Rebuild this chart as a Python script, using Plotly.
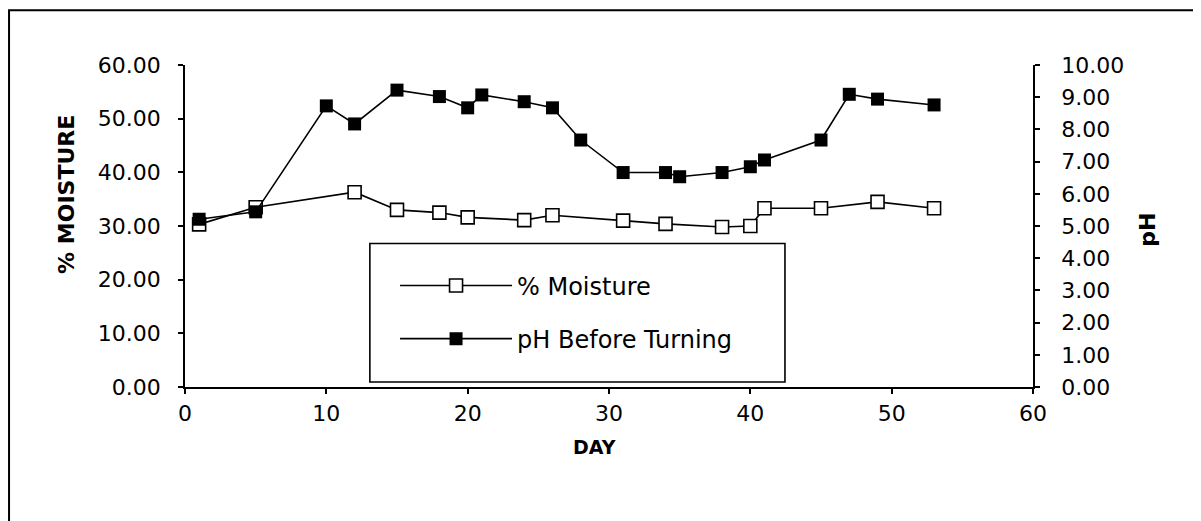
import plotly.graph_objects as go

# Data
moist_day = [1, 5, 12, 15, 18, 20, 24, 26, 31, 34, 38, 40, 41, 45, 49, 53]
moisture = [30.3, 33.5, 36.3, 33.0, 32.5, 31.6, 31.1, 32.0, 31.0, 30.4,
            29.8, 30.0, 33.3, 33.3, 34.5, 33.3]

ph_day = [1, 5, 10, 12, 15, 18, 20, 21, 24, 26, 28, 31, 34, 35, 38, 40,
          41, 45, 47, 49, 53]
ph = [5.21, 5.44, 8.73, 8.17, 9.22, 9.02, 8.67, 9.07, 8.86, 8.67, 7.67,
      6.66, 6.66, 6.53, 6.66, 6.84, 7.05, 7.67, 9.09, 8.94, 8.76]

FONT = "DejaVu Sans"

fig = go.Figure()

# % Moisture (left axis)
fig.add_trace(
    go.Scatter(x=moist_day, y=moisture, mode="lines+markers",
               name="% Moisture", legendgroup="a",
               line=dict(color="black", width=1.6),
               marker=dict(symbol="square", size=13, color="white",
                           line=dict(color="black", width=1.6))))
# pH (right axis)
fig.add_trace(
    go.Scatter(x=ph_day, y=ph, mode="lines+markers", yaxis="y2",
               name="pH Before Turning", legendgroup="b",
               line=dict(color="black", width=1.6),
               marker=dict(symbol="square", size=13, color="black")))

axis_common = dict(showgrid=False, zeroline=False, showline=True,
                   linecolor="black", linewidth=1.5, ticks="outside",
                   ticklen=5, tickwidth=1.5, tickcolor="black",
                   tickfont=dict(family=FONT, size=22, color="black"))

fig.update_layout(
    width=1201, height=521,
    margin=dict(l=177, r=176, t=57, b=142),
    paper_bgcolor="white", plot_bgcolor="white",
    font=dict(family=FONT, color="black"),
    showlegend=True,
    legend=dict(x=0.2477, y=0.384, xanchor="left", yanchor="top",
                bgcolor="rgba(0,0,0,0)", borderwidth=0,
                font=dict(family=FONT, size=24, color="black"),
                itemwidth=112, traceorder="grouped", tracegroupgap=19),
    xaxis=dict(range=[0, 60], dtick=10, ticklabelstandoff=1, **axis_common),
    yaxis=dict(range=[0, 60], dtick=10, tickformat=".2f",
               ticklabelstandoff=13, **axis_common),
    yaxis2=dict(range=[0, 10], dtick=1, tickformat=".2f", overlaying="y",
                side="right", ticklabelstandoff=17, **axis_common),
    # inside halves of the crossing tick marks
    xaxis2=dict(range=[0, 60], dtick=10, overlaying="x", anchor="y",
                side="bottom", showgrid=False, zeroline=False,
                showticklabels=False, ticks="inside", ticklen=5,
                tickwidth=1.5, tickcolor="black"),
    yaxis3=dict(range=[0, 60], dtick=10, overlaying="y", anchor="x",
                side="left", showgrid=False, zeroline=False,
                showticklabels=False, ticks="inside", ticklen=5,
                tickwidth=1.5, tickcolor="black"),
    yaxis4=dict(range=[0, 10], dtick=1, overlaying="y", anchor="x",
                side="right", showgrid=False, zeroline=False,
                showticklabels=False, ticks="inside", ticklen=5,
                tickwidth=1.5, tickcolor="black"),
)

# legend frame and outer chart frame
fig.add_shape(type="rect", xref="paper", yref="paper",
              x0=0.218, x1=0.7075, y0=0.0155, y1=0.4458,
              line=dict(color="black", width=1.6), layer="below")
fig.add_shape(type="rect", xref="paper", yref="paper",
              x0=-0.2075, x1=1.205, y0=-0.45, y1=1.17,
              line=dict(color="black", width=2))

# axis titles
fig.add_annotation(text="<b>% MOISTURE</b>", xref="paper", yref="paper",
                   x=-0.139, y=0.597, xanchor="center", yanchor="middle",
                   textangle=-90, showarrow=False,
                   font=dict(family=FONT, size=22, color="black"))
fig.add_annotation(text="<b>pH</b>", xref="paper", yref="paper",
                   x=1.135, y=0.49, xanchor="center", yanchor="middle",
                   textangle=-90, showarrow=False,
                   font=dict(family=FONT, size=22, color="black"))
fig.add_annotation(text="<b>DAY</b>", xref="paper", yref="paper",
                   x=0.483, y=-0.186, xanchor="center", yanchor="middle",
                   showarrow=False,
                   font=dict(family=FONT, size=19, color="black"))

fig.write_html("out.html")
